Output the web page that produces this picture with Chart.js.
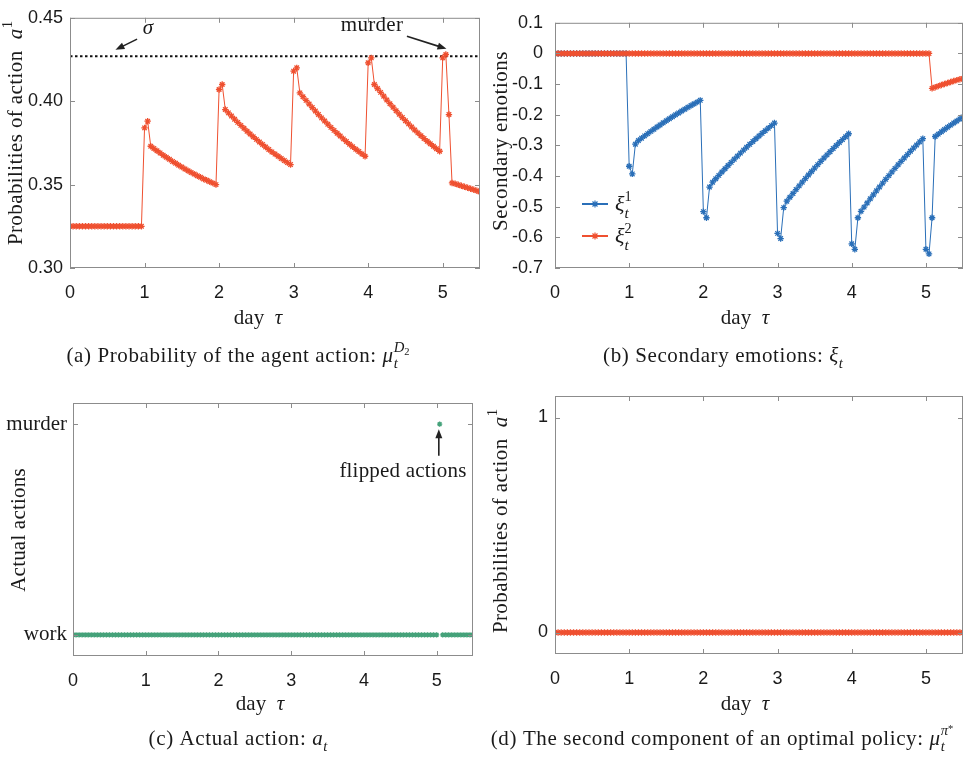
<!DOCTYPE html>
<html>
<head>
<meta charset="utf-8">
<script src="https://cdn.jsdelivr.net/npm/chart.js@4.4.1/dist/chart.umd.min.js"></script>
<style>
  body { margin: 0; background: #fff; width: 965px; height: 757px; position: relative; overflow: hidden; }
  canvas { position: absolute; }
</style>
</head>
<body>
<canvas id="chart-a" width="482" height="378" style="left:0;top:0"></canvas>
<canvas id="chart-b" width="483" height="378" style="left:482px;top:0"></canvas>
<canvas id="chart-c" width="482" height="379" style="left:0;top:378px"></canvas>
<canvas id="chart-d" width="483" height="379" style="left:482px;top:378px"></canvas>
<script>
// one sample per hour -> 24 samples per day, days 0 .. 5.5
const STEPS_PER_DAY = 24;
const dayMax = 5.5;

// (a) probability of action a^1 (one row per day)
const probAction = [
  0.325, 0.325, 0.325, 0.325, 0.325, 0.325, 0.325, 0.325, 0.325, 0.325, 0.325, 0.325, 0.325, 0.325, 0.325, 0.325, 0.325, 0.325, 0.325, 0.325, 0.325, 0.325, 0.325, 0.325,
  0.384, 0.388, 0.373, 0.3716, 0.3703, 0.3690, 0.3676, 0.3664, 0.3652, 0.3639, 0.3628, 0.3616, 0.3605, 0.3594, 0.3583, 0.3573, 0.3563, 0.3553, 0.3544, 0.3534, 0.3526, 0.3517, 0.3509, 0.350,
  0.407, 0.410, 0.395, 0.3930, 0.3911, 0.3892, 0.3873, 0.3855, 0.3838, 0.3820, 0.3803, 0.3787, 0.3771, 0.3755, 0.3740, 0.3725, 0.3710, 0.3696, 0.3683, 0.3670, 0.3657, 0.3644, 0.3632, 0.362,
  0.418, 0.420, 0.405, 0.4027, 0.4005, 0.3983, 0.3962, 0.3941, 0.3920, 0.3900, 0.3881, 0.3862, 0.3843, 0.3825, 0.3808, 0.3791, 0.3774, 0.3758, 0.3742, 0.3727, 0.3712, 0.3698, 0.3684, 0.367,
  0.423, 0.426, 0.410, 0.4076, 0.4053, 0.4030, 0.4007, 0.3985, 0.3964, 0.3943, 0.3922, 0.3902, 0.3883, 0.3864, 0.3845, 0.3827, 0.3810, 0.3793, 0.3776, 0.3760, 0.3745, 0.3730, 0.3715, 0.370,
  0.426, 0.428, 0.392, 0.351, 0.3505, 0.3499, 0.3493, 0.3487, 0.3481, 0.3475, 0.3469, 0.3463, 0.3456
];
const sigma = 0.427;

// (b) secondary emotions
const xi1 = [
  0, 0, 0, 0, 0, 0, 0, 0, 0, 0, 0, 0, 0, 0, 0, 0, 0, 0, 0, 0, 0, 0, 0, 0,
  -0.368, -0.393, -0.296, -0.284, -0.2764, -0.2689, -0.2615, -0.2543, -0.2471, -0.2401, -0.2332, -0.2264, -0.2197, -0.2130, -0.2066, -0.2002, -0.1940, -0.1878, -0.1818, -0.1758, -0.1700, -0.1644, -0.1588, -0.153,
  -0.516, -0.536, -0.436, -0.420, -0.4088, -0.3978, -0.3868, -0.3762, -0.3656, -0.3553, -0.3451, -0.3351, -0.3252, -0.3154, -0.3059, -0.2965, -0.2874, -0.2783, -0.2695, -0.2606, -0.2521, -0.2438, -0.2355, -0.227,
  -0.587, -0.604, -0.503, -0.482, -0.4692, -0.4567, -0.4442, -0.4321, -0.4200, -0.4083, -0.3966, -0.3852, -0.3740, -0.3628, -0.3520, -0.3412, -0.3309, -0.3205, -0.3104, -0.3003, -0.2906, -0.2811, -0.2717, -0.262,
  -0.621, -0.639, -0.536, -0.515, -0.5013, -0.4877, -0.4742, -0.4612, -0.4482, -0.4356, -0.4230, -0.4107, -0.3986, -0.3865, -0.3749, -0.3633, -0.3522, -0.3410, -0.3301, -0.3192, -0.3088, -0.2986, -0.2884, -0.278,
  -0.639, -0.654, -0.536, -0.271, -0.2632, -0.2556, -0.2482, -0.2410, -0.2339, -0.2270, -0.2202, -0.2136, -0.207
];
const xi2 = [
  0, 0, 0, 0, 0, 0, 0, 0, 0, 0, 0, 0, 0, 0, 0, 0, 0, 0, 0, 0, 0, 0, 0, 0,
  0, 0, 0, 0, 0, 0, 0, 0, 0, 0, 0, 0, 0, 0, 0, 0, 0, 0, 0, 0, 0, 0, 0, 0,
  0, 0, 0, 0, 0, 0, 0, 0, 0, 0, 0, 0, 0, 0, 0, 0, 0, 0, 0, 0, 0, 0, 0, 0,
  0, 0, 0, 0, 0, 0, 0, 0, 0, 0, 0, 0, 0, 0, 0, 0, 0, 0, 0, 0, 0, 0, 0, 0,
  0, 0, 0, 0, 0, 0, 0, 0, 0, 0, 0, 0, 0, 0, 0, 0, 0, 0, 0, 0, 0, 0, 0, 0,
  0, 0, -0.114, -0.1102, -0.1066, -0.1031, -0.0997, -0.0964, -0.0932, -0.0901, -0.0871, -0.0842, -0.082
];

// (c) actual actions: 0 = work, 1 = murder
const actionNames = ['work', 'murder'];
const actions = [
  0, 0, 0, 0, 0, 0, 0, 0, 0, 0, 0, 0, 0, 0, 0, 0, 0, 0, 0, 0, 0, 0, 0, 0,
  0, 0, 0, 0, 0, 0, 0, 0, 0, 0, 0, 0, 0, 0, 0, 0, 0, 0, 0, 0, 0, 0, 0, 0,
  0, 0, 0, 0, 0, 0, 0, 0, 0, 0, 0, 0, 0, 0, 0, 0, 0, 0, 0, 0, 0, 0, 0, 0,
  0, 0, 0, 0, 0, 0, 0, 0, 0, 0, 0, 0, 0, 0, 0, 0, 0, 0, 0, 0, 0, 0, 0, 0,
  0, 0, 0, 0, 0, 0, 0, 0, 0, 0, 0, 0, 0, 0, 0, 0, 0, 0, 0, 0, 0, 0, 0, 0,
  0, 1, 0, 0, 0, 0, 0, 0, 0, 0, 0, 0, 0
];

// (d) second component of the optimal policy
const optimalPolicy = [
  0, 0, 0, 0, 0, 0, 0, 0, 0, 0, 0, 0, 0, 0, 0, 0, 0, 0, 0, 0, 0, 0, 0, 0,
  0, 0, 0, 0, 0, 0, 0, 0, 0, 0, 0, 0, 0, 0, 0, 0, 0, 0, 0, 0, 0, 0, 0, 0,
  0, 0, 0, 0, 0, 0, 0, 0, 0, 0, 0, 0, 0, 0, 0, 0, 0, 0, 0, 0, 0, 0, 0, 0,
  0, 0, 0, 0, 0, 0, 0, 0, 0, 0, 0, 0, 0, 0, 0, 0, 0, 0, 0, 0, 0, 0, 0, 0,
  0, 0, 0, 0, 0, 0, 0, 0, 0, 0, 0, 0, 0, 0, 0, 0, 0, 0, 0, 0, 0, 0, 0, 0,
  0, 0, 0, 0, 0, 0, 0, 0, 0, 0, 0, 0, 0
];

const RED = '#ef5030';
const BLUE = '#2a6fb8';
const GREEN = '#45a27a';
const FRAME = '#8c8c8c';
const TEXT = '#1a1a1a';
const SANS = '"Liberation Sans", Arial, sans-serif';
const SERIF = '"Liberation Serif", "DejaVu Serif", serif';

const toPoints = arr => arr.map((v, i) => ({ x: i / STEPS_PER_DAY, y: v }));

// text with italics / sub / superscripts; parts stacked with `stack` share x with the previous part
function drawRich(ctx, parts, x, y, size, opt = {}) {
    ctx.save();
    ctx.translate(x, y);
    if (opt.rotate) ctx.rotate(-Math.PI / 2);
    ctx.fillStyle = TEXT;
    ctx.textBaseline = 'alphabetic';
    ctx.textAlign = 'left';
    const ls = opt.ls || 0;
    let cx = 0, lastStart = 0, lastEnd = 0;
    const items = [];
    parts.forEach(p => {
        const fs = size * (p.s || 1);
        const font = (p.it ? 'italic ' : '') + fs + 'px ' + SERIF;
        const spacing = p.s ? 0 : ls;
        ctx.font = font;
        ctx.letterSpacing = spacing + 'px';
        const w = ctx.measureText(p.t).width;
        let px;
        if (p.stack) {
            px = lastStart;
            lastEnd = Math.max(lastEnd, px + w);
        } else {
            px = cx;
            lastStart = px;
            lastEnd = px + w;
        }
        cx = lastEnd;
        items.push({ font, spacing, px, t: p.t, dy: (p.dy || 0) * size });
    });
    const x0 = opt.align === 'left' ? 0 : -cx / 2;
    items.forEach(it => {
        ctx.font = it.font;
        ctx.letterSpacing = it.spacing + 'px';
        ctx.fillText(it.t, x0 + it.px, size * 0.33 + it.dy);
    });
    ctx.restore();
}

function arrow(ctx, x1, y1, x2, y2) {
    const ang = Math.atan2(y2 - y1, x2 - x1);
    const hl = 9, hw = 3.5;
    ctx.save();
    ctx.strokeStyle = '#222';
    ctx.fillStyle = '#222';
    ctx.lineWidth = 1.6;
    ctx.beginPath();
    ctx.moveTo(x1, y1);
    ctx.lineTo(x2 - Math.cos(ang) * hl * 0.8, y2 - Math.sin(ang) * hl * 0.8);
    ctx.stroke();
    ctx.beginPath();
    ctx.moveTo(x2, y2);
    ctx.lineTo(x2 - Math.cos(ang) * hl - Math.sin(ang) * hw, y2 - Math.sin(ang) * hl + Math.cos(ang) * hw);
    ctx.lineTo(x2 - Math.cos(ang) * hl + Math.sin(ang) * hw, y2 - Math.sin(ang) * hl - Math.cos(ang) * hw);
    ctx.closePath();
    ctx.fill();
    ctx.restore();
}

// MATLAB-like box with inward ticks on all four sides
const boxPlugin = {
    id: 'matlabBox',
    afterDatasetsDraw(chart) {
        const { ctx, chartArea: a, scales } = chart;
        ctx.save();
        ctx.strokeStyle = FRAME;
        ctx.lineWidth = 1;
        ctx.strokeRect(a.left + 0.5, a.top + 0.5, a.right - a.left - 1, a.bottom - a.top - 1);
        ctx.beginPath();
        scales.x.ticks.forEach(t => {
            const px = Math.round(scales.x.getPixelForValue(t.value)) + 0.5;
            ctx.moveTo(px, a.bottom); ctx.lineTo(px, a.bottom - 5);
            ctx.moveTo(px, a.top); ctx.lineTo(px, a.top + 5);
        });
        scales.y.ticks.forEach(t => {
            const py = Math.round(scales.y.getPixelForValue(t.value)) + 0.5;
            ctx.moveTo(a.left, py); ctx.lineTo(a.left + 5, py);
            ctx.moveTo(a.right, py); ctx.lineTo(a.right - 5, py);
        });
        ctx.stroke();
        ctx.restore();
    }
};

function xScale(height, padding) {
    return {
        type: 'linear', min: 0, max: dayMax,
        grid: { display: false, drawTicks: false },
        border: { display: false },
        afterFit: s => { s.height = height; },
        ticks: {
            stepSize: 1, includeBounds: false, padding: padding, color: TEXT,
            font: { family: SANS, size: 18 },
            callback: v => Number.isInteger(v) ? String(v) : ''
        }
    };
}

function yScale(cfg) {
    return Object.assign({
        type: 'linear',
        grid: { display: false, drawTicks: false },
        border: { display: false },
        afterFit: s => { s.width = cfg.width; }
    }, cfg.extra);
}

function baseOptions(pad, scales) {
    return {
        responsive: false,
        animation: false,
        devicePixelRatio: 1,
        layout: { padding: pad, autoPadding: false },
        plugins: { legend: { display: false }, tooltip: { enabled: false } },
        scales: scales
    };
}

function lineSet(data, color, extra) {
    return Object.assign({
        data: toPoints(data),
        borderColor: color,
        backgroundColor: color,
        borderWidth: 1,
        pointStyle: 'star',
        pointRadius: 3.2,
        pointBorderColor: color,
        pointBorderWidth: 1.3,
        pointBackgroundColor: color,
        tension: 0
    }, extra || {});
}

function dayTitle(ctx, x, y) {
    drawRich(ctx, [{ t: 'day  ' }, { t: 'τ', it: true }], x, y, 21);
}
function probTitle(ctx, x, y) {
    drawRich(ctx, [{ t: 'Probabilities of action  ' }, { t: 'a', it: true }, { t: '1', s: 0.7, dy: -0.45 }],
        x, y, 21, { rotate: true, ls: 0.4 });
}
function caption(ctx, parts, x, y) {
    drawRich(ctx, parts, x, y, 21, { ls: 0.6 });
}

// --- (a) ---
new Chart(document.getElementById('chart-a'), {
    type: 'scatter',
    data: {
        datasets: [
            lineSet(probAction, RED, { showLine: true }),
            {
                data: [{ x: 0, y: sigma }, { x: dayMax, y: sigma }],
                showLine: true, borderColor: '#111', borderWidth: 2, borderDash: [2.5, 2.5], pointRadius: 0
            }
        ]
    },
    options: baseOptions({ left: 0, right: 2, top: 10, bottom: 0 }, {
        x: xScale(110, 14),
        y: yScale({
            width: 70, extra: {
                min: 0.30, max: 0.45,
                ticks: { stepSize: 0.05, padding: 7, color: TEXT, font: { family: SANS, size: 18 }, callback: v => v.toFixed(2) }
            }
        })
    }),
    plugins: [boxPlugin, {
        id: 'extrasA',
        afterDraw(chart) {
            const { ctx, scales: { x, y } } = chart;
            probTitle(ctx, 15, 133);
            dayTitle(ctx, 258, 317);
            caption(ctx, [{ t: '(a) Probability of the agent action: ' }, { t: 'μ', it: true },
                { t: 't', it: true, s: 0.7, dy: 0.28 }, { t: 'D', it: true, s: 0.7, dy: -0.45, stack: true }, { t: '2', s: 0.5, dy: -0.32 }],
                238, 355);
            drawRich(ctx, [{ t: 'σ', it: true }], 148, 27, 21);
            arrow(ctx, x.getPixelForValue(0.90), y.getPixelForValue(0.4372), x.getPixelForValue(0.61), y.getPixelForValue(0.4308));
            drawRich(ctx, [{ t: 'murder' }], 372, 24, 21, { ls: 0.3 });
            arrow(ctx, x.getPixelForValue(4.52), y.getPixelForValue(0.439), x.getPixelForValue(5.05), y.getPixelForValue(0.4314));
        }
    }]
});

// --- (b) ---
new Chart(document.getElementById('chart-b'), {
    type: 'scatter',
    data: {
        datasets: [
            lineSet(xi2, RED, { showLine: true, order: 0 }),
            lineSet(xi1, BLUE, { showLine: true, order: 1 })
        ]
    },
    options: baseOptions({ left: 0, right: 2, top: 10, bottom: 0 }, {
        x: xScale(110, 14),
        y: yScale({
            width: 73, extra: {
                min: -0.7, max: 0.1,
                ticks: { stepSize: 0.1, padding: 12, color: TEXT, font: { family: SANS, size: 18 },
                    callback: v => Math.abs(v) < 1e-6 ? '0' : v.toFixed(1) }
            }
        })
    }),
    plugins: [boxPlugin, {
        id: 'extrasB',
        afterDraw(chart) {
            const { ctx } = chart;
            drawRich(ctx, [{ t: 'Secondary emotions' }], 18, 141, 21, { rotate: true, ls: 0.5 });
            dayTitle(ctx, 263, 317);
            caption(ctx, [{ t: '(b) Secondary emotions: ' }, { t: 'ξ', it: true }, { t: 't', it: true, s: 0.7, dy: 0.28 }],
                241, 355);
            // legend
            [[BLUE, '1', 204], [RED, '2', 236]].forEach(([c, k, ly]) => {
                ctx.save();
                ctx.strokeStyle = c; ctx.lineWidth = 2;
                ctx.beginPath(); ctx.moveTo(100, ly); ctx.lineTo(126, ly); ctx.stroke();
                ctx.lineWidth = 1.2;
                ctx.beginPath();
                ctx.moveTo(109.5, ly); ctx.lineTo(116.5, ly);
                ctx.moveTo(113, ly - 3.5); ctx.lineTo(113, ly + 3.5);
                ctx.moveTo(110.5, ly - 2.5); ctx.lineTo(115.5, ly + 2.5);
                ctx.moveTo(110.5, ly + 2.5); ctx.lineTo(115.5, ly - 2.5);
                ctx.stroke();
                ctx.restore();
                drawRich(ctx, [{ t: 'ξ', it: true }, { t: k, s: 0.65, dy: -0.45 }, { t: 't', it: true, s: 0.7, dy: 0.3, stack: true }],
                    133, ly, 22, { align: 'left' });
            });
        }
    }]
});

// --- (c) ---
new Chart(document.getElementById('chart-c'), {
    type: 'scatter',
    data: {
        datasets: [lineSet(actions, GREEN, { showLine: false, pointRadius: 2.6 })]
    },
    options: baseOptions({ left: 0, right: 9, top: 25, bottom: 0 }, {
        x: xScale(101, 14),
        y: yScale({
            width: 73, extra: {
                min: -0.1, max: 1.1,
                afterBuildTicks: s => { s.ticks = [{ value: 0 }, { value: 1 }]; },
                ticks: { padding: 6, color: TEXT, font: { family: SERIF, size: 21 }, callback: v => actionNames[v] }
            }
        })
    }),
    plugins: [boxPlugin, {
        id: 'extrasC',
        afterDraw(chart) {
            const { ctx, scales: { x, y } } = chart;
            drawRich(ctx, [{ t: 'Actual actions' }], 18, 152, 21, { rotate: true, ls: 0.2 });
            dayTitle(ctx, 260, 325);
            caption(ctx, [{ t: '(c) Actual action: ' }, { t: 'a', it: true }, { t: 't', it: true, s: 0.7, dy: 0.28 }],
                238, 360);
            drawRich(ctx, [{ t: 'flipped actions' }], 403, 92, 21, { ls: 0.2 });
            arrow(ctx, x.getPixelForValue(5.03), y.getPixelForValue(0.85), x.getPixelForValue(5.03), y.getPixelForValue(0.975));
        }
    }]
});

// --- (d) ---
new Chart(document.getElementById('chart-d'), {
    type: 'scatter',
    data: {
        datasets: [lineSet(optimalPolicy, RED, { showLine: true })]
    },
    options: baseOptions({ left: 0, right: 2, top: 18, bottom: 0 }, {
        x: xScale(103, 14),
        y: yScale({
            width: 73, extra: {
                min: -0.1, max: 1.1,
                afterBuildTicks: s => { s.ticks = [{ value: 0 }, { value: 1 }]; },
                ticks: { padding: 7, color: TEXT, font: { family: SANS, size: 18 }, callback: v => String(v) }
            }
        })
    }),
    plugins: [boxPlugin, {
        id: 'extrasD',
        afterDraw(chart) {
            const { ctx } = chart;
            probTitle(ctx, 18, 143);
            dayTitle(ctx, 263, 325);
            caption(ctx, [{ t: '(d) The second component of an optimal policy: ' }, { t: 'μ', it: true },
                { t: 't', it: true, s: 0.7, dy: 0.28 }, { t: 'π', it: true, s: 0.7, dy: -0.45, stack: true }, { t: '*', s: 0.5, dy: -0.62 }],
                240, 360);
        }
    }]
});
</script>
</body>
</html>
